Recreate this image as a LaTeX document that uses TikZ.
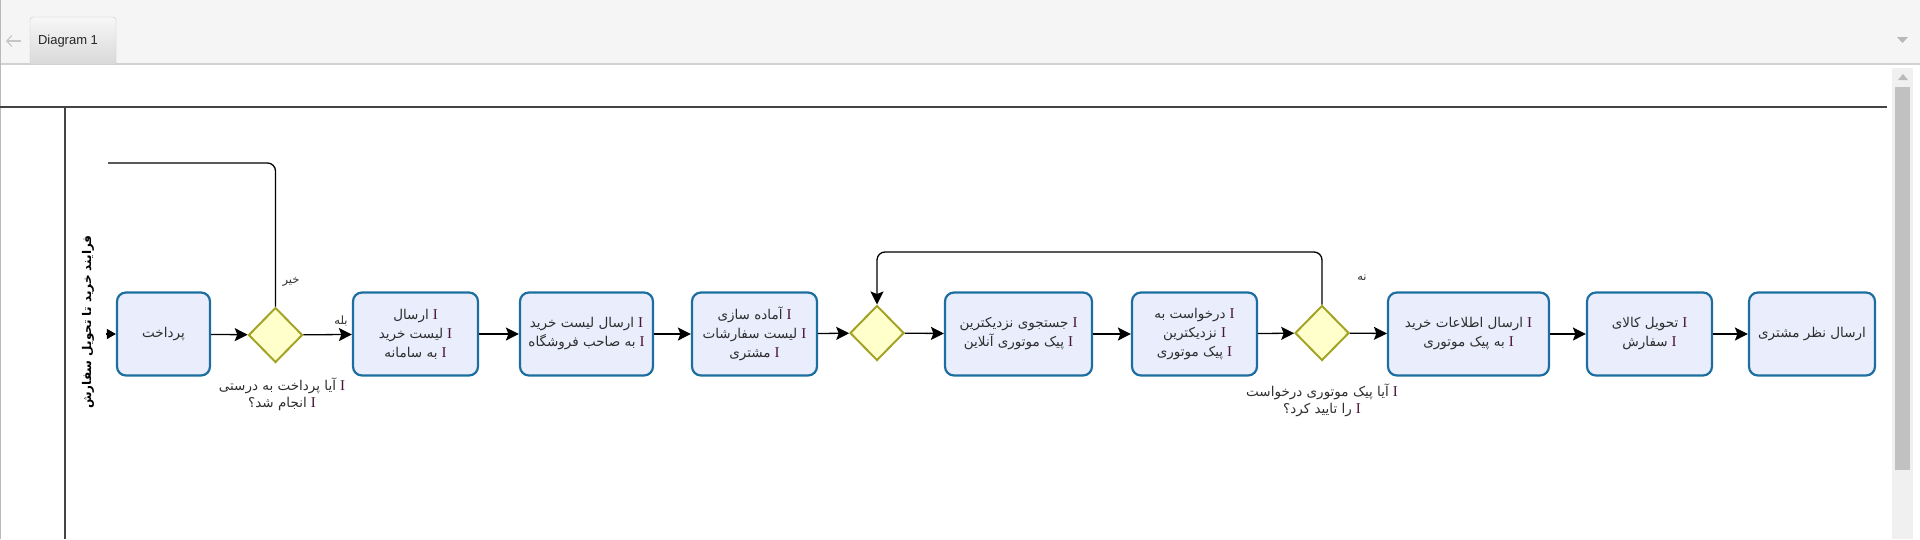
\documentclass[tikz,border=0pt]{standalone}
\usepackage{fontspec}
\setmainfont{Liberation Sans}
\newfontfamily\arabicfont[Script=Arabic]{DejaVu Sans}
\newfontfamily\latinserif{Liberation Serif}
\TeXXeTstate=1
\usetikzlibrary{arrows.meta,shapes.geometric}
\definecolor{taskfill}{HTML}{E9EDFC}
\definecolor{taskdraw}{HTML}{1C6EA0}
\definecolor{gwfill}{HTML}{FFFFCC}
\definecolor{gwdraw}{HTML}{A3A326}
\definecolor{txt}{HTML}{2E2E2E}
\definecolor{icol}{HTML}{4A1538}
\definecolor{hdrgray}{HTML}{F5F5F5}
\definecolor{sepgray}{HTML}{D2D2D2}
\definecolor{tabtop}{HTML}{F7F7F7}
\definecolor{tabbot}{HTML}{D9D9D9}
\definecolor{tabline}{HTML}{C6C6C6}
\definecolor{poolline}{HTML}{444444}
\definecolor{track}{HTML}{F0F0F0}
\definecolor{thumb}{HTML}{C1C1C1}
\newcommand{\rl}[1]{{\arabicfont\beginR #1\endR}}
\newcommand{\iI}{{\latinserif\fontsize{15}{15}\selectfont\color{icol}I}}
\newcommand{\il}[1]{\rl{#1}\hspace{4pt}\iI}
\tikzset{
  task/.style={draw=taskdraw, fill=taskfill, line width=2.2pt, rounded corners=9pt,
    minimum height=83pt, text=txt, align=center, inner sep=0pt,
    font=\fontsize{13.5}{19}\selectfont},
  gw/.style={diamond, draw=gwdraw, fill=gwfill, line width=2pt,
    minimum width=54pt, minimum height=55pt, inner sep=0pt},
  flow/.style={line width=1.3pt, draw=black, -{Stealth[length=13pt,width=13pt,inset=2.5pt]}},
  plainline/.style={line width=1.3pt, draw=black},
  lbl/.style={text=txt, align=center, font=\fontsize{13.5}{17}\selectfont, inner sep=0pt},
  smalllbl/.style={text=txt, font=\fontsize{11.5}{13}\selectfont, inner sep=0pt}
}
\begin{document}
\begin{tikzpicture}[x=1pt,y=-1pt]
\useasboundingbox (0,0) rectangle (1920,539);
% window chrome
\fill[hdrgray] (0,0) rectangle (1920,64);
\draw[sepgray, line width=1.2pt] (0,64) -- (1920,64);
\shade[top color=tabtop, bottom color=tabbot, draw=tabline]
  (30,64) [rounded corners=3pt] -- (30,17) -- (116,17) [sharp corners] -- (116,64);
\node[font=\fontsize{13}{15}\selectfont, text=black!85] (tab) at (68,41) {Diagram 1};
\draw[gray!45, line width=1.2pt, -{Straight Barb[length=5pt,width=11pt]}] (21,41) -- (6,41);
\fill[gray!55] (1897,37) -- (1908,37) -- (1902.5,43) -- cycle;
\draw[gray!55, line width=1pt] (0.5,0) -- (0.5,539);
% scrollbar
\fill[track] (1892,68) rectangle (1913,539);
\fill[thumb] (1895,87) rectangle (1910,470);
\fill[gray!55] (1898,80) -- (1908,80) -- (1903,74) -- cycle;
% pool
\draw[poolline, line width=1.8pt] (0,107) -- (1887,107);
\draw[poolline, line width=1.5pt] (65,107) -- (65,539);
\node[rotate=90, text=black, font=\fontsize{12}{14}\selectfont\bfseries] (pool) at (88,322)
  {\rl{فرایند خرید تا تحویل سفارش}};
% nodes
\node[task, minimum width=93pt] (pay) at (163.5,334) {\rl{پرداخت}};
\node[gw] (d1) at (275.5,335) {};
\node[task, minimum width=125pt] (t2) at (415.5,334)
  {\il{ارسال}\\ \il{لیست خرید}\\ \il{به سامانه}};
\node[task, minimum width=133pt] (t3) at (586.5,334)
  {\il{ارسال لیست خرید}\\ \il{به صاحب فروشگاه}};
\node[task, minimum width=125pt] (t4) at (754.5,334)
  {\il{آماده سازی}\\ \il{لیست سفارشات}\\ \il{مشتری}};
\node[gw] (d2) at (877,333) {};
\node[task, minimum width=147pt] (t5) at (1018.5,334)
  {\il{جستجوی نزدیکترین}\\ \il{پیک موتوری آنلاین}};
\node[task, minimum width=125pt] (t6) at (1194.5,334)
  {\il{درخواست به}\\ \il{نزدیکترین}\\ \il{پیک موتوری}};
\node[gw] (d3) at (1322,333) {};
\node[task, minimum width=161pt] (t7) at (1468.5,334)
  {\il{ارسال اطلاعات خرید}\\ \il{به پیک موتوری}};
\node[task, minimum width=125pt] (t8) at (1649.5,334)
  {\il{تحویل کالای}\\ \il{سفارش}};
\node[task, minimum width=126pt] (t9) at (1812,334) {\rl{ارسال نظر مشتری}};
% gateway labels
\node[lbl] (d1lbl) at (282,394) {\il{آیا پرداخت به درستی}\\ \il{انجام شد؟}};
\node[lbl] (d3lbl) at (1322,400) {\il{آیا پیک موتوری درخواست}\\ \il{را تایید کرد؟}};
% connectors
\coordinate (startpt) at (106,334);
\draw[flow, -{Triangle[length=9pt,width=10pt]}] (startpt) -- (pay.west);
\draw[flow] (pay) -- (d1);
\draw[flow] (d1) -- (t2);
\draw[flow] (t2) -- (t3);
\draw[flow] (t3) -- (t4);
\draw[flow] (t4) -- (d2);
\draw[flow] (d2) -- (t5);
\draw[flow] (t5) -- (t6);
\draw[flow] (t6) -- (d3);
\draw[flow] (d3) -- (t7);
\draw[flow] (t7) -- (t8);
\draw[flow] (t8) -- (t9);
\coordinate (loop1end) at (108,163);
\draw[plainline, rounded corners=8pt] (d1.north) |- (loop1end);
\coordinate (loop2top) at (1100,252);
\draw[flow, rounded corners=8pt] (d3.north) |- (loop2top) -| (d2.north);
% flow labels
\node[smalllbl] (no1) at (291,282) {\rl{خیر}};
\node[smalllbl] (yes1) at (341,321) {\rl{بله}};
\node[smalllbl] (no2) at (1362,278) {\rl{نه}};
\end{tikzpicture}
\end{document}
